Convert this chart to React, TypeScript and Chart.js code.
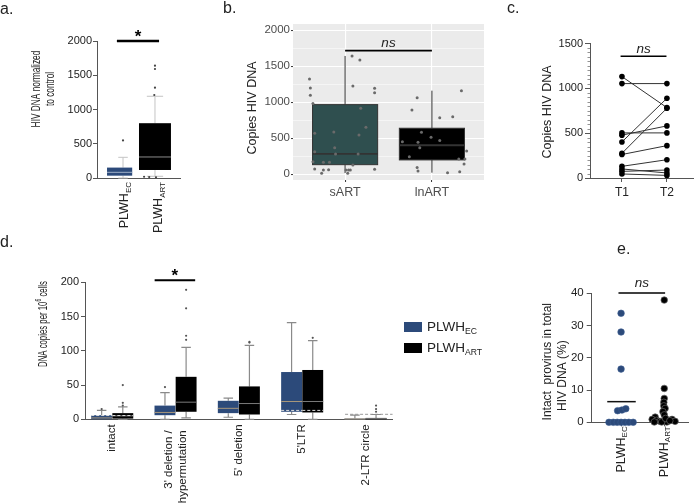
import React, { useEffect, useRef } from 'react';
import { Chart, registerables } from 'chart.js';
Chart.register(...registerables);

const FONT = '"Liberation Sans", Arial, Helvetica, sans-serif';
Chart.defaults.font.family = FONT;
Chart.defaults.color = '#222';

const EC_BLUE = '#2c4a7a';

// ---------------- Panel a ----------------
const aGroups = ['EC', 'ART'];
const aWhiskerLow = [0, 25];
const aQ1 = [34, 117];
const aMedian = [83, 307];
const aQ3 = [152, 800];
const aWhiskerHigh = [302, 1193];
const aOutlierEC = [548];
const aOutlierART = [1640, 1591, 1318, 1212, 18, 14, 10];
const aOutlierARTJitter = [0.02, 0.02, 0.02, 0.0, -0.3, -0.15, 0.05];
const aTicks = [0, 500, 1000, 1500, 2000];

// ---------------- Panel b ----------------
const bGroups = ['sART', 'lnART'];
const bWhiskerLow = [17, 22];
const bQ1 = [133, 199];
const bMedian = [282, 403];
const bQ3 = [967, 639];
const bWhiskerHigh = [1643, 1161];
const bSartValues = [1324, 1199, 1097, 981, 569, 314, 175, 74, 14, 167, 60, 167, 64, 587, 369, 282, 60, 60, 14, 60, 1643, 1226, 129, 282, 546, 1587, 917, 653, 1194, 1133, 69];
const bSartJitter = [-0.41, -0.40, -0.40, -0.37, -0.35, -0.35, -0.37, -0.35, -0.27, -0.25, -0.25, -0.18, -0.19, -0.13, -0.12, -0.11, 0.01, 0.04, 0.03, 0.06, 0.08, 0.09, 0.09, 0.15, 0.16, 0.17, 0.18, 0.24, 0.34, 0.34, 0.34];
const bLnartValues = [1064, 893, 453, 444, 244, 92, 46, 583, 514, 369, 467, 786, 800, 1161, 324, 213, 213, 143, 22, 36];
const bLnartJitter = [-0.17, -0.23, -0.34, -0.16, -0.26, -0.17, -0.16, -0.12, -0.01, -0.14, 0.09, 0.09, 0.24, 0.34, 0.40, 0.31, 0.38, 0.37, 0.18, 0.32];
const bMajorTicks = [0, 500, 1000, 1500, 2000];
const bAllTicks = [0, 250, 500, 750, 1000, 1250, 1500, 1750, 2000];

// ---------------- Panel c ----------------
const cTimes = ['T1', 'T2'];
const cT1 = [1131, 1053, 503, 478, 402, 275, 262, 130, 101, 74, 45];
const cT2 = [785, 1053, 503, 581, 889, 778, 361, 204, 56, 89, 29];

// ---------------- Panel d ----------------
const dCategories = [['intact'], ["3' deletion /", 'hypermutation'], ["5' deletion"], ["5'LTR"], ['2-LTR circle']];
const dEcLow = [0, 0, 3, 7, 0];
const dEcQ1 = [0, 6, 9, 11, 0];
const dEcMedian = [2, 10, 16, 26, 0.5];
const dEcQ3 = [6, 20, 27, 69, 1];
const dEcHigh = [13, 39, 31, 141, 6];
const dEcMean = [5.5, null, null, 13, 7.3];
const dArtLow = [0, 2, 0, 0, 0];
const dArtQ1 = [1, 11, 7, 10, 0];
const dArtMedian = [5, 25, 23, 26, 1];
const dArtQ3 = [9, 62, 48, 72, 2];
const dArtHigh = [18, 105, 108, 115, 7];
const dArtMean = [5.5, null, null, 13, null];
const dEcOutliers = [[15], [47], [], [], []];
const dArtOutliers = [[20, 24, 50], [116, 122, 162, 189], [112, 113], [119], [11, 15, 20]];
const dTicks = [0, 50, 100, 150, 200];

// ---------------- Panel e ----------------
const eGroups = ['EC', 'ART'];
const eEC = [33.8, 28.0, 16.5, 3.6, 3.8, 4.2, 0, 0, 0, 0, 0, 0, 0];
const eECJitter = [0, 0, 0, -0.08, 0.02, 0.11, -0.28, -0.18, -0.09, 0, 0.09, 0.18, 0.28];
const eART = [37.9, 10.5, 7.4, 6.2, 5.1, 4.3, 3.3, 2.3, 1.6, 0.9, 0.6, 0.3, 0.6, 0.9, 0.3, 0.1, 0.1, 0.1, 1.2, 0.5];
const eARTJitter = [0, 0, 0, -0.01, -0.01, 0.02, -0.03, 0, -0.21, -0.28, -0.18, -0.1, 0.09, 0.18, 0.25, 0.06, -0.23, -0.06, 0.03, 0.13];
const eMeanEC = 6.4;
const eTicks = [0, 10, 20, 30, 40];

// ---------------- helpers ----------------
type Part = { t: string; sub?: boolean; sup?: boolean };
type TextSpec = {
  x: number; y: number; parts: Part[] | string; size: number; rot?: number;
  align?: 'left' | 'right' | 'center'; baseline?: CanvasTextBaseline; color?: string;
  italic?: boolean; bold?: boolean; stretch?: number;
};

function drawText(ctx: CanvasRenderingContext2D, s: TextSpec) {
  const parts: Part[] = typeof s.parts === 'string' ? [{ t: s.parts }] : s.parts;
  const fontFor = (p: Part) =>
    `${s.italic ? 'italic ' : ''}${s.bold ? 'bold ' : ''}${p.sub || p.sup ? s.size * 0.64 : s.size}px ${FONT}`;
  ctx.save();
  ctx.translate(s.x, s.y);
  if (s.rot) ctx.rotate(s.rot);
  ctx.scale(s.stretch ?? 1, 1);
  const widths = parts.map((p) => { ctx.font = fontFor(p); return ctx.measureText(p.t).width; });
  const total = widths.reduce((a, b) => a + b, 0);
  let cx = s.align === 'left' ? 0 : s.align === 'right' ? -total : -total / 2;
  ctx.textAlign = 'left';
  ctx.textBaseline = s.baseline ?? 'middle';
  ctx.fillStyle = s.color ?? '#222';
  parts.forEach((p, i) => {
    ctx.font = fontFor(p);
    const dy = p.sub ? s.size * 0.32 : p.sup ? -s.size * 0.32 : 0;
    ctx.fillText(p.t, cx, dy);
    cx += widths[i];
  });
  ctx.restore();
}

type Box = {
  x: number; w: number; wx?: number;
  lo: number; q1: number; med: number; q3: number; hi: number;
  cap: number; fill: string; stroke?: string; strokeW?: number;
  medColor: string; medW?: number; whisker: string; whiskerW?: number;
  mean?: number | null; meanColor?: string; meanW?: number; meanDx?: number;
};

function drawBoxes(chart: any, boxes: Box[]) {
  const ctx: CanvasRenderingContext2D = chart.ctx;
  const xs = chart.scales.x; const ys = chart.scales.y;
  const X = (v: number) => xs.getPixelForValue(v);
  const Y = (v: number) => ys.getPixelForValue(v);
  ctx.save();
  for (const b of boxes) {
    const wxv = b.wx ?? b.x;
    const wx = X(wxv);
    ctx.setLineDash([]);
    ctx.strokeStyle = b.whisker;
    ctx.lineWidth = b.whiskerW ?? 1;
    ctx.beginPath();
    ctx.moveTo(wx, Y(b.q3)); ctx.lineTo(wx, Y(b.hi));
    ctx.moveTo(wx, Y(b.q1)); ctx.lineTo(wx, Y(b.lo));
    if (b.cap > 0) {
      const c0 = X(wxv - b.cap / 2), c1 = X(wxv + b.cap / 2);
      ctx.moveTo(c0, Y(b.hi)); ctx.lineTo(c1, Y(b.hi));
      if (b.lo < b.q1) { ctx.moveTo(c0, Y(b.lo)); ctx.lineTo(c1, Y(b.lo)); }
    }
    ctx.stroke();
    const l = X(b.x - b.w / 2), r = X(b.x + b.w / 2), t = Y(b.q3), bt = Y(b.q1);
    ctx.fillStyle = b.fill;
    ctx.fillRect(l, t, r - l, bt - t);
    if (b.stroke) { ctx.strokeStyle = b.stroke; ctx.lineWidth = b.strokeW ?? 1; ctx.strokeRect(l, t, r - l, bt - t); }
    ctx.strokeStyle = b.medColor; ctx.lineWidth = b.medW ?? 1;
    ctx.beginPath(); ctx.moveTo(l, Y(b.med)); ctx.lineTo(r, Y(b.med)); ctx.stroke();
    if (b.mean != null) {
      const mw = b.meanW ?? b.w; const mc = b.x + (b.meanDx ?? 0);
      ctx.setLineDash([3, 2]);
      ctx.strokeStyle = b.meanColor ?? '#ddd';
      ctx.lineWidth = 1;
      ctx.beginPath(); ctx.moveTo(X(mc - mw / 2), Y(b.mean)); ctx.lineTo(X(mc + mw / 2), Y(b.mean)); ctx.stroke();
      ctx.setLineDash([]);
    }
  }
  ctx.restore();
}

function hLine(chart: any, x0: number, x1: number, v: number, w: number, color = '#000') {
  const ctx: CanvasRenderingContext2D = chart.ctx;
  const xs = chart.scales.x; const ys = chart.scales.y;
  ctx.save();
  ctx.strokeStyle = color; ctx.lineWidth = w; ctx.setLineDash([]);
  ctx.beginPath();
  ctx.moveTo(xs.getPixelForValue(x0), ys.getPixelForValue(v));
  ctx.lineTo(xs.getPixelForValue(x1), ys.getPixelForValue(v));
  ctx.stroke();
  ctx.restore();
}

const noPlugins = { legend: { display: false }, tooltip: { enabled: false } };
const numLabel = (v: any) => String(v);

// ---------------- configs ----------------
function configA(): any {
  const boxes: Box[] = aGroups.map((_, i) => ({
    x: i === 0 ? -0.1 : 0.94, w: i === 0 ? 0.74 : 0.94, wx: i === 0 ? 0 : 0.94,
    lo: aWhiskerLow[i], q1: aQ1[i], med: aMedian[i], q3: aQ3[i], hi: aWhiskerHigh[i],
    cap: i === 0 ? 0.28 : 0.48, fill: i === 0 ? EC_BLUE : '#000',
    medColor: i === 0 ? '#9fb0c8' : '#8a8a8a', whisker: '#c4c4c4',
  }));
  return {
    type: 'scatter',
    data: {
      datasets: [
        { data: aOutlierEC.map((v) => ({ x: 0, y: v })), pointRadius: 1.1, backgroundColor: '#444', borderWidth: 0, clip: false },
        { data: aOutlierART.map((v, i) => ({ x: 0.92 + aOutlierARTJitter[i], y: v })), pointRadius: 1.1, backgroundColor: '#444', borderWidth: 0, clip: false },
      ],
    },
    options: {
      responsive: false, animation: false, events: [],
      layout: { padding: { top: 41, right: 15, bottom: 67, left: 0 } },
      plugins: noPlugins,
      scales: {
        x: { type: 'linear', min: -0.765, max: 1.676, ticks: { display: false }, grid: { display: false }, border: { color: '#555', width: 1 }, afterFit: (s: any) => { s.height = 0; } },
        y: {
          type: 'linear', min: 0, max: 2000,
          afterBuildTicks: (s: any) => { s.ticks = aTicks.map((v) => ({ value: v })); },
          ticks: { font: { size: 11 }, color: '#222', padding: 1, callback: numLabel },
          grid: { drawOnChartArea: false, tickLength: 4, color: '#555' },
          border: { color: '#555', width: 1 },
          afterFit: (s: any) => { s.width = 97; },
        },
      },
    },
    plugins: [{
      id: 'pa',
      beforeDatasetsDraw: (chart: any) => drawBoxes(chart, boxes),
      afterDraw: (chart: any) => {
        const ctx = chart.ctx; const xs = chart.scales.x; const ys = chart.scales.y;
        hLine(chart, -0.18, 1.06, 2000, 2.4);
        drawText(ctx, { x: (xs.getPixelForValue(-0.18) + xs.getPixelForValue(1.06)) / 2, y: 42, parts: '*', size: 17, bold: true, baseline: 'alphabetic', color: '#000' });
        drawText(ctx, { x: 0, y: 10, parts: 'a.', size: 16, align: 'left' });
        drawText(ctx, { x: 36, y: 89, parts: 'HIV DNA normalized', size: 13, rot: -Math.PI / 2, stretch: 0.64 });
        drawText(ctx, { x: 50.5, y: 89, parts: 'to control', size: 13, rot: -Math.PI / 2, stretch: 0.64 });
        aGroups.forEach((g, i) => {
          drawText(ctx, { x: xs.getPixelForValue(i) + 2, y: ys.bottom + 4, parts: [{ t: 'PLWH' }, { t: g, sub: true }], size: 12.5, rot: -Math.PI / 2, align: 'right' });
        });
      },
    }],
  };
}

function configB(): any {
  const boxes: Box[] = bGroups.map((_, i) => ({
    x: i + 1, w: 0.75,
    lo: bWhiskerLow[i], q1: bQ1[i], med: bMedian[i], q3: bQ3[i], hi: bWhiskerHigh[i],
    cap: 0, fill: i === 0 ? '#2F4F4F' : '#000', stroke: '#333', strokeW: 1,
    medColor: '#333', medW: 1.8, whisker: '#333', whiskerW: 1,
  }));
  const isMajor = (c: any) => c.tick && bMajorTicks.includes(c.tick.value);
  return {
    type: 'scatter',
    data: {
      datasets: [
        { data: bSartValues.map((v, i) => ({ x: 1 + bSartJitter[i], y: v })), pointRadius: 1.5, backgroundColor: '#6a6a6a', borderWidth: 0, clip: false },
        { data: bLnartValues.map((v, i) => ({ x: 2 + bLnartJitter[i], y: v })), pointRadius: 1.5, backgroundColor: '#6a6a6a', borderWidth: 0, clip: false },
      ],
    },
    options: {
      responsive: false, animation: false, events: [],
      layout: { padding: { top: 24, right: 6, bottom: 0, left: 0 } },
      plugins: noPlugins,
      scales: {
        x: {
          type: 'linear', min: 0.4, max: 2.6,
          afterBuildTicks: (s: any) => { s.ticks = [1, 2].map((v) => ({ value: v })); },
          ticks: { autoSkip: false, font: { size: 12.5 }, color: '#4d4d4d', padding: 3, maxRotation: 0, callback: (_v: any, i: number) => bGroups[i] },
          grid: { color: '#fff', lineWidth: 1.1, tickLength: 2, tickColor: '#333', tickWidth: 1 },
          border: { display: false },
          afterFit: (s: any) => { s.height = 20; },
        },
        y: {
          type: 'linear', min: -80, max: 2087,
          afterBuildTicks: (s: any) => { s.ticks = bAllTicks.map((v) => ({ value: v })); },
          ticks: { autoSkip: false, font: { size: 11.5 }, color: '#4d4d4d', padding: 1, callback: (v: any) => (bMajorTicks.includes(v) ? String(v) : '') },
          grid: {
            color: '#fff', lineWidth: (c: any) => (isMajor(c) ? 1.1 : 0.5), tickLength: 2, tickWidth: 1,
            tickColor: (c: any) => (isMajor(c) ? '#333' : 'rgba(0,0,0,0)'),
          },
          border: { display: false },
          afterFit: (s: any) => { s.width = 103; },
        },
      },
    },
    plugins: [{
      id: 'pb',
      beforeDraw: (chart: any) => {
        const { ctx, chartArea: a } = chart;
        ctx.save(); ctx.fillStyle = '#EBEBEB'; ctx.fillRect(a.left, a.top, a.right - a.left, a.bottom - a.top); ctx.restore();
      },
      beforeDatasetsDraw: (chart: any) => drawBoxes(chart, boxes),
      afterDraw: (chart: any) => {
        const ctx = chart.ctx; const xs = chart.scales.x;
        hLine(chart, 1, 2, 1717, 1.6);
        drawText(ctx, { x: (xs.getPixelForValue(1) + xs.getPixelForValue(2)) / 2, y: 43, parts: 'ns', size: 13.5, italic: true });
        drawText(ctx, { x: 33, y: 9, parts: 'b.', size: 16, align: 'left' });
        drawText(ctx, { x: 63, y: 108, parts: 'Copies HIV DNA', size: 12.5, rot: -Math.PI / 2 });
      },
    }],
  };
}

function configC(): any {
  const datasets = cT1.map((v, i) => ({
    data: [{ x: 0, y: v }, { x: 1, y: cT2[i] }], showLine: true, borderColor: '#333', borderWidth: 1,
    pointRadius: 2.8, pointBackgroundColor: '#000', pointBorderWidth: 0, clip: false,
  }));
  return {
    type: 'scatter',
    data: { datasets },
    options: {
      responsive: false, animation: false, events: [],
      layout: { padding: { top: 43.5, right: 5, bottom: 0, left: 0 } },
      plugins: noPlugins,
      scales: {
        x: {
          type: 'linear', min: -0.71, max: 1.58,
          afterBuildTicks: (s: any) => { s.ticks = [0, 1].map((v) => ({ value: v })); },
          ticks: { autoSkip: false, font: { size: 12 }, color: '#222', padding: 3, maxRotation: 0, callback: (_v: any, i: number) => cTimes[i] },
          grid: { drawOnChartArea: false, tickLength: 4, color: '#555' },
          border: { color: '#555', width: 1 },
          afterFit: (s: any) => { s.height = 22; },
        },
        y: {
          type: 'linear', min: 0, max: 1500,
          afterBuildTicks: (s: any) => { s.ticks = [0, 500, 1000, 1500].map((v) => ({ value: v })); },
          ticks: { font: { size: 11 }, color: '#222', padding: 2, callback: numLabel },
          grid: { drawOnChartArea: false, tickLength: 5, color: '#555' },
          border: { color: '#555', width: 1 },
          afterFit: (s: any) => { s.width = 90; },
        },
      },
    },
    plugins: [{
      id: 'pc',
      afterDraw: (chart: any) => {
        const ctx = chart.ctx; const xs = chart.scales.x; const ys = chart.scales.y;
        ctx.save(); ctx.strokeStyle = '#777'; ctx.lineWidth = 0.8; ctx.beginPath();
        for (let v = 50; v < 1500; v += 50) {
          if (v % 500 === 0) continue;
          const y = Math.round(ys.getPixelForValue(v)) + 0.5;
          ctx.moveTo(xs.left - 2.5, y); ctx.lineTo(xs.left, y);
        }
        ctx.stroke(); ctx.restore();
        hLine(chart, -0.03, 0.99, 1358, 1.6);
        drawText(ctx, { x: (xs.getPixelForValue(-0.03) + xs.getPixelForValue(0.99)) / 2, y: 49, parts: 'ns', size: 13.5, italic: true });
        drawText(ctx, { x: 7, y: 9, parts: 'c.', size: 16, align: 'left' });
        drawText(ctx, { x: 48, y: 112, parts: 'Copies HIV DNA', size: 12.5, rot: -Math.PI / 2 });
      },
    }],
  };
}

function configD(): any {
  const boxes: Box[] = [];
  dCategories.forEach((_, i) => {
    boxes.push({
      x: i - 0.167, w: 0.33, lo: dEcLow[i], q1: dEcQ1[i], med: dEcMedian[i], q3: dEcQ3[i], hi: dEcHigh[i],
      cap: 0.15, fill: EC_BLUE, medColor: '#a8977c', whisker: '#8a8a8a', whiskerW: 1.2,
      mean: dEcMean[i], meanColor: i === 4 ? '#999' : '#e0e0e0', meanW: i === 4 ? 0.75 : 0.33, meanDx: i === 4 ? 0.22 : 0,
    });
    boxes.push({
      x: i + 0.167, w: 0.33, lo: dArtLow[i], q1: dArtQ1[i], med: dArtMedian[i], q3: dArtQ3[i], hi: dArtHigh[i],
      cap: 0.15, fill: '#000', medColor: '#7a7a7a', whisker: '#8a8a8a', whiskerW: 1.2,
      mean: dArtMean[i], meanColor: '#e0e0e0', meanW: 0.33,
    });
  });
  const ecPts: any[] = []; const artPts: any[] = [];
  dCategories.forEach((_, i) => {
    dEcOutliers[i].forEach((v) => ecPts.push({ x: i - 0.167, y: v }));
    dArtOutliers[i].forEach((v) => artPts.push({ x: i + 0.167, y: v }));
  });
  return {
    type: 'scatter',
    data: {
      datasets: [
        { data: ecPts, pointRadius: 1.1, backgroundColor: '#555', borderWidth: 0, clip: false },
        { data: artPts, pointRadius: 1.1, backgroundColor: '#555', borderWidth: 0, clip: false },
      ],
    },
    options: {
      responsive: false, animation: false, events: [],
      layout: { padding: { top: 52.3, right: 105.3, bottom: 83.7, left: 0 } },
      plugins: noPlugins,
      scales: {
        x: { type: 'linear', min: -0.43, max: 4.43, ticks: { display: false }, grid: { display: false }, border: { color: '#555', width: 1 }, afterFit: (s: any) => { s.height = 0; } },
        y: {
          type: 'linear', min: 0, max: 200,
          afterBuildTicks: (s: any) => { s.ticks = dTicks.map((v) => ({ value: v })); },
          ticks: { font: { size: 11 }, color: '#222', padding: 2, callback: numLabel },
          grid: { drawOnChartArea: false, tickLength: 4, color: '#555' },
          border: { color: '#555', width: 1 },
          afterFit: (s: any) => { s.width = 85; },
        },
      },
    },
    plugins: [{
      id: 'pd',
      beforeDatasetsDraw: (chart: any) => drawBoxes(chart, boxes),
      afterDraw: (chart: any) => {
        const ctx = chart.ctx; const xs = chart.scales.x; const ys = chart.scales.y;
        hLine(chart, 0.67, 1.31, 203, 2.2);
        drawText(ctx, { x: (xs.getPixelForValue(0.67) + xs.getPixelForValue(1.31)) / 2, y: 51, parts: '*', size: 17, bold: true, baseline: 'alphabetic', color: '#000' });
        drawText(ctx, { x: 0, y: 13, parts: 'd.', size: 16, align: 'left' });
        drawText(ctx, { x: 43, y: 94, parts: [{ t: 'DNA copies per 10' }, { t: '6', sup: true }, { t: ' cells' }], size: 13, rot: -Math.PI / 2, stretch: 0.6 });
        dCategories.forEach((lines, i) => {
          const cx = xs.getPixelForValue(i);
          if (lines.length === 1) {
            drawText(ctx, { x: cx, y: ys.bottom + 5, parts: lines[0], size: 11.5, rot: -Math.PI / 2, align: 'right' });
          } else {
            lines.forEach((ln, k) => {
              drawText(ctx, { x: cx + (k - 0.5) * 14.4, y: ys.bottom + 11, parts: ln, size: 11.5, rot: -Math.PI / 2, align: 'right' });
            });
          }
        });
        // legend
        ctx.save();
        ctx.fillStyle = EC_BLUE; ctx.fillRect(404, 92, 18, 10);
        ctx.fillStyle = '#000'; ctx.fillRect(404, 113, 18, 10);
        ctx.restore();
        drawText(ctx, { x: 427, y: 97, parts: [{ t: 'PLWH' }, { t: 'EC', sub: true }], size: 13.5, align: 'left' });
        drawText(ctx, { x: 427, y: 118, parts: [{ t: 'PLWH' }, { t: 'ART', sub: true }], size: 13.5, align: 'left' });
      },
    }],
  };
}

function configE(): any {
  return {
    type: 'scatter',
    data: {
      datasets: [
        { data: eEC.map((v, i) => ({ x: eECJitter[i], y: v })), pointRadius: 3.3, backgroundColor: EC_BLUE, borderColor: '#3b5c90', borderWidth: 0.6, clip: false },
        { data: eART.map((v, i) => ({ x: 1 + eARTJitter[i], y: v })), pointRadius: 3.3, backgroundColor: '#000', borderColor: '#666', borderWidth: 0.7, clip: false },
      ],
    },
    options: {
      responsive: false, animation: false, events: [],
      layout: { padding: { top: 53.3, right: 10, bottom: 80.7, left: 0 } },
      plugins: noPlugins,
      scales: {
        x: {
          type: 'linear', min: -0.68, max: 1.55,
          afterBuildTicks: (s: any) => { s.ticks = [0, 1].map((v) => ({ value: v })); },
          ticks: { display: false },
          grid: { drawOnChartArea: false, tickLength: 4, color: '#555' },
          border: { color: '#555', width: 1 },
          afterFit: (s: any) => { s.height = 0; },
        },
        y: {
          type: 'linear', min: 0, max: 40,
          afterBuildTicks: (s: any) => { s.ticks = eTicks.map((v) => ({ value: v })); },
          ticks: { font: { size: 11.5 }, color: '#222', padding: 3, callback: numLabel },
          grid: { drawOnChartArea: false, tickLength: 5, color: '#555' },
          border: { color: '#555', width: 1 },
          afterFit: (s: any) => { s.width = 91.7; },
        },
      },
    },
    plugins: [{
      id: 'pe',
      beforeDatasetsDraw: (chart: any) => { hLine(chart, -0.32, 0.34, eMeanEC, 1.5, '#111'); },
      afterDraw: (chart: any) => {
        const ctx = chart.ctx; const xs = chart.scales.x; const ys = chart.scales.y;
        hLine(chart, -0.06, 1.02, 40.1, 1.5);
        drawText(ctx, { x: (xs.getPixelForValue(-0.06) + xs.getPixelForValue(1.02)) / 2, y: 43, parts: 'ns', size: 13.5, italic: true });
        drawText(ctx, { x: 117, y: 10, parts: 'e.', size: 16, align: 'left' });
        drawText(ctx, { x: 48, y: 121.7, parts: 'Intact  provirus in total', size: 12, rot: -Math.PI / 2 });
        drawText(ctx, { x: 63, y: 135.7, parts: 'HIV DNA (%)', size: 12, rot: -Math.PI / 2 });
        eGroups.forEach((g, i) => {
          drawText(ctx, { x: xs.getPixelForValue(i), y: ys.bottom + 4, parts: [{ t: 'PLWH' }, { t: g, sub: true }], size: 12.5, rot: -Math.PI / 2, align: 'right' });
        });
      },
    }],
  };
}

function Panel(props: { left: number; top: number; width: number; height: number; make: () => any }) {
  const { left, top, width, height, make } = props;
  const ref = useRef<HTMLCanvasElement>(null);
  useEffect(() => {
    if (!ref.current) return;
    const chart = new Chart(ref.current, make());
    return () => chart.destroy();
  }, []);
  return (
    <div style={{ position: 'absolute', left, top, width, height }}>
      <canvas ref={ref} width={width} height={height} style={{ width, height, display: 'block' }} />
    </div>
  );
}

export default function App() {
  return (
    <div style={{ position: 'absolute', left: 0, top: 0, width: 698, height: 503, background: '#fff', overflow: 'hidden' }}>
      <Panel left={0} top={0} width={195} height={245} make={configA} />
      <Panel left={190} top={0} width={300} height={200} make={configB} />
      <Panel left={500} top={0} width={198} height={200} make={configC} />
      <Panel left={0} top={230} width={498} height={273} make={configD} />
      <Panel left={500} top={240} width={198} height={263} make={configE} />
    </div>
  );
}
